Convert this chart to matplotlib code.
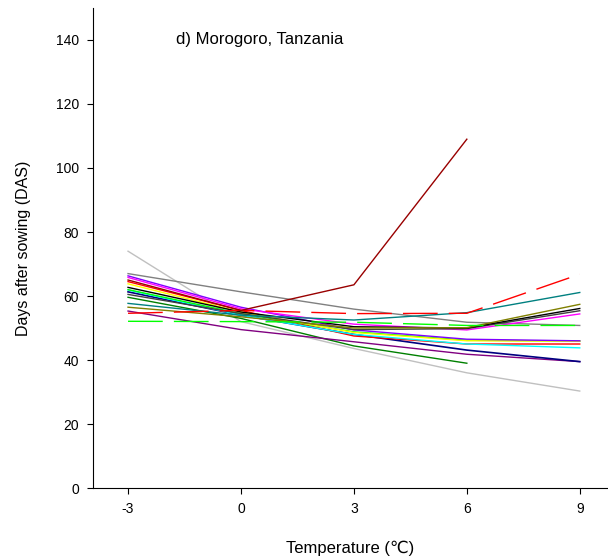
import numpy as np
import matplotlib
matplotlib.use('Agg')
import matplotlib.pyplot as plt

plt.rcParams['font.family'] = ['Liberation Sans', 'DejaVu Sans']

# temperature change scenarios
temp = [-3, 0, 3, 6, 9]

# days after sowing for each model run (nan = no value)
light_gray = [74.0, 52.0, 43.6, 36.0, 30.3]
gray = [67.0, 61.3, 55.9, 51.8, 50.8]
maroon = [65.0, 55.5, 63.5, 109.0, np.nan]
red_dash = [54.6, 55.5, 54.5, 54.6, 66.8]
teal = [57.7, 54.0, 52.5, 54.8, 61.1]
green_dash = [52.1, 52.0, 51.8, 50.8, 50.8]
olive = [56.5, 53.5, 50.0, 50.1, 57.4]
black = [62.7, 55.0, 50.4, 50.0, 56.1]
dark_gray = [60.5, 54.5, 49.5, 49.8, 55.4]
magenta = [65.8, 56.0, 51.2, 49.4, 54.4]
violet = [66.3, 56.5, 49.4, 46.5, 46.0]
yellow = [63.8, 55.0, 48.6, 46.0, 45.9]
lime = [62.0, 54.5, 48.8, 46.2, 45.9]
cyan = [61.9, 54.0, 48.0, 45.0, 43.8]
red = [64.5, 55.5, 47.5, 45.0, 45.0]
navy = [61.3, 54.0, 48.0, 43.1, 39.5]
purple = [55.3, 49.5, 45.7, 41.8, 39.5]
dark_green = [59.6, 53.0, 44.4, 39.0, np.nan]

fig = plt.figure(figsize=(6.08, 5.58), dpi=100)
ax = fig.add_axes([0.153, 0.1254, 0.847, 0.8603])

ax.plot(temp, light_gray, color='#c0c0c0', lw=1)
ax.plot(temp, gray, color='#808080', lw=1)
ax.plot(temp, dark_green, color='#008000', lw=1)
ax.plot(temp, purple, color='#800080', lw=1)
ax.plot(temp, navy, color='#000080', lw=1.2)
ax.plot(temp, red, color='#ff0000', lw=1)
ax.plot(temp, cyan, color='#00ffff', lw=1)
ax.plot(temp, lime, color='#00ff00', lw=1)
ax.plot(temp, yellow, color='#ffff00', lw=1)
ax.plot(temp, violet, color='#8000ff', lw=1)
ax.plot(temp, magenta, color='#ff00ff', lw=1)
ax.plot(temp, dark_gray, color='#404040', lw=1)
ax.plot(temp, black, color='#000000', lw=1)
ax.plot(temp, olive, color='#808000', lw=1)
ax.plot(temp, teal, color='#008080', lw=1)
ax.plot(temp, green_dash, color='#00ff00', lw=1, dashes=(25, 8))
ax.plot(temp, red_dash, color='#ff0000', lw=1, dashes=(25, 8))
ax.plot(temp, maroon, color='#990000', lw=1)

ax.set_xlim(-3.93, 9.75)
ax.set_ylim(0, 150)
ax.set_xticks(temp)
ax.set_xticklabels(['-3', '0', '3', '6', '9'])
ax.set_yticks(range(0, 141, 20))

ax.spines['top'].set_visible(False)
ax.spines['right'].set_visible(False)
ax.tick_params(direction='out', length=4, width=0.8, labelsize=10, pad=6)

ax.text(-1.73, 140, 'd) Morogoro, Tanzania', fontsize=12, va='center')
ax.set_xlabel('Temperature (℃)', fontsize=12, labelpad=18)
ax.set_ylabel('Days after sowing (DAS)', fontsize=11.5, labelpad=18)

fig.savefig('out.png')
